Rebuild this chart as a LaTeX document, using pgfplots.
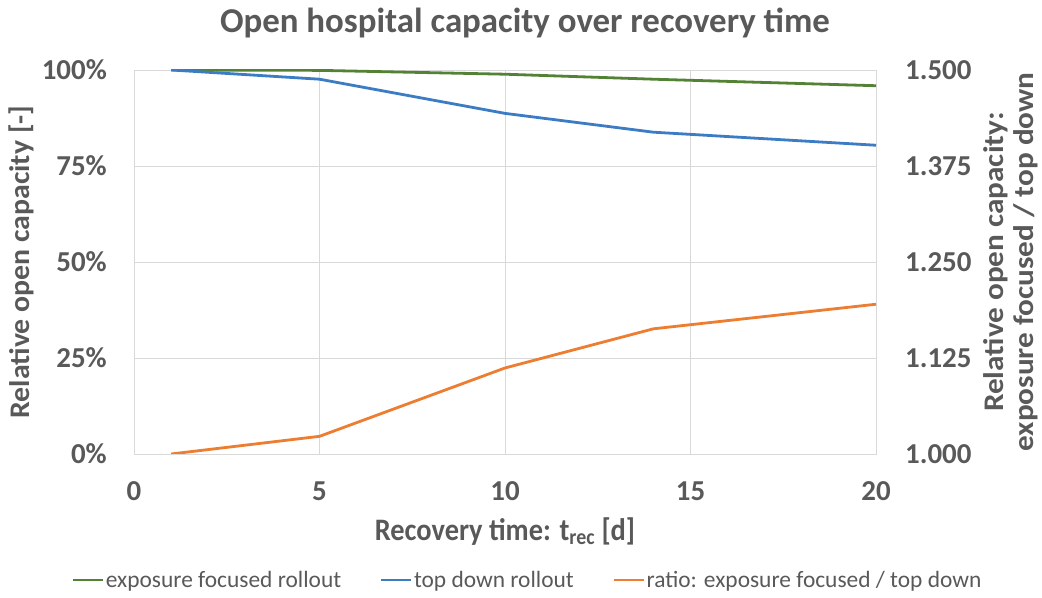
\documentclass[border=0pt]{standalone}
\usepackage{pgfplots}
\pgfplotsset{compat=1.18}
\usepackage{graphicx}
\usepackage{fontspec}
\setmainfont{Carlito}
\definecolor{txt}{HTML}{595959}
\definecolor{grn}{HTML}{548235}
\definecolor{blu}{HTML}{3B7CC4}
\definecolor{org}{HTML}{ED7D31}
\definecolor{gridc}{HTML}{D9D9D9}
\begin{document}
\begin{tikzpicture}[x=1bp,y=1bp]
\useasboundingbox (0,0) rectangle (1042,598);
\node[font=\bfseries\fontsize{35}{40}\selectfont, text=txt] at (525,575) {Open hospital capacity over recovery time};
\begin{axis}[
  at={(134bp,144bp)}, anchor=south west,
  scale only axis, width=742bp, height=384bp,
  xmin=0, xmax=20, ymin=0, ymax=100,
  xtick={0,5,10,15,20}, xticklabels={0,5,10,15,20},
  ytick={0,25,50,75,100}, yticklabels={0\%,25\%,50\%,75\%,100\%},
  /pgf/number format/assume math mode=true,
  grid=major, major grid style={draw=gridc, line width=0.8bp},
  axis line style={draw=gridc, line width=0.8bp},
  major tick length=0pt,
  tick label style={font=\bfseries\fontsize{29}{33}\selectfont, text=txt, inner sep=0pt},
  xticklabel style={anchor=base, yshift=-47bp},
  yticklabel style={anchor=east, xshift=-27bp},
  xlabel={\scalebox{1}[1.1]{Recovery time: t\textsubscript{rec} [d]}},
  ylabel={\scalebox{1.05}[1]{Relative open capacity [-]}},
  label style={font=\bfseries\fontsize{28.5}{33}\selectfont, text=txt, inner sep=0pt},
  xlabel style={at={(rel axis cs:0.5,-0.203)}, anchor=center},
  ylabel style={at={(rel axis cs:-0.152,0.5)}, anchor=center},
]
\addplot[grn, line width=2.8bp] coordinates {(1,100) (5,99.9) (10,98.9) (14,97.6) (20,95.9)};
\addplot[blu, line width=2.8bp] coordinates {(1,100) (5,97.6) (10,88.7) (14,83.8) (20,80.4)};
\end{axis}
\begin{axis}[
  at={(134bp,144bp)}, anchor=south west,
  scale only axis, width=742bp, height=384bp,
  xmin=0, xmax=20, ymin=1, ymax=1.5,
  axis x line=none, axis y line*=right,
  axis line style={draw=none},
  ytick={1,1.125,1.25,1.375,1.5}, yticklabels={1.000,1.125,1.250,1.375,1.500},
  /pgf/number format/assume math mode=true,
  major tick length=0pt,
  tick label style={font=\bfseries\fontsize{29}{33}\selectfont, text=txt, inner sep=0pt},
  yticklabel style={anchor=west, xshift=29bp},
  ylabel={\scalebox{1.1}[1]{\begin{tabular}{@{}c@{}}Relative open capacity:\\[-3bp]exposure focused / top down\end{tabular}}},
  ylabel style={font=\bfseries\fontsize{28.5}{33}\selectfont, text=txt, inner sep=0pt, at={(rel axis cs:1.183,0.5)}, anchor=center},
  legend columns=3,
  legend style={draw=none, fill=none, at={(rel axis cs:0.530,-0.328)}, anchor=center,
    font=\fontsize{23.5}{27}\selectfont, text=txt,
    nodes={inner sep=1.5bp},
    /tikz/every even column/.append style={column sep=37bp}},
  legend image code/.code={\draw[#1] (0bp,0bp) -- (30bp,0bp);},
]
\addlegendimage{grn, line width=2.8bp}
\addlegendentry{exposure focused rollout}
\addlegendimage{blu, line width=2.8bp}
\addlegendentry{top down rollout}
\addplot[org, line width=2.8bp] coordinates {(1,1.000) (5,1.023) (10,1.112) (14,1.163) (20,1.195)};
\addlegendentry{ratio: exposure focused / top down}
\end{axis}
\end{tikzpicture}
\end{document}
